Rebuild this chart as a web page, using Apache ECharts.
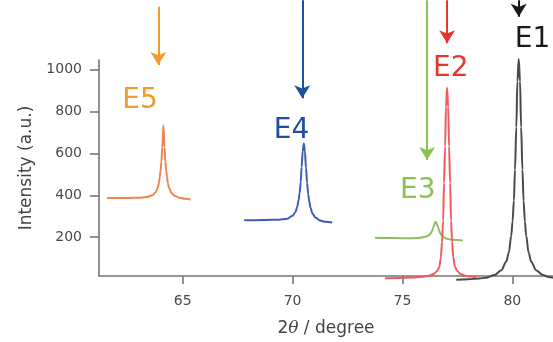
<!DOCTYPE html>
<html><head><meta charset="utf-8">
<script src="https://cdn.jsdelivr.net/npm/echarts@6/dist/echarts.min.js"></script>
<style>html,body{margin:0;padding:0;background:#fff}#c{width:553px;height:342px}</style>
</head><body><div id="c"></div>
<script>
// ---- data ----
const xTicks = [65, 70, 75, 80];
const yTicks = [200, 400, 600, 800, 1000];

const e5 = [[61.55,405],[62.0,405],[62.5,405],[63.0,406],[63.35,409],[63.62,417],[63.76,430],[63.86,452],[63.92,476],[63.95,500],[63.99,530],[64.03,573],[64.07,640],[64.12,742],[64.17,640],[64.21,573],[64.25,530],[64.29,500],[64.32,474],[64.38,450],[64.49,428],[64.63,415],[64.85,406],[65.1,401],[65.36,398]];
const e4 = [[67.8,302],[68.3,302],[68.8,303],[69.3,304],[69.75,309],[70.0,322],[70.13,340],[70.21,363],[70.27,393],[70.32,428],[70.37,478],[70.41,548],[70.46,622],[70.51,658],[70.56,620],[70.61,545],[70.66,475],[70.71,423],[70.76,388],[70.82,358],[70.9,333],[71.04,314],[71.25,300],[71.5,294],[71.8,291]];
const e3 = [[73.75,220],[74.2,219],[74.7,219],[75.2,218],[75.7,219],[76.0,224],[76.17,230],[76.28,240],[76.34,250],[76.4,265],[76.45,284],[76.51,295],[76.57,284],[76.63,265],[76.69,248],[76.75,236],[76.86,224],[77.0,216],[77.2,212],[77.5,210],[77.75,208]];
const e2 = [[74.2,32],[74.8,34],[75.4,36],[75.9,39],[76.2,44],[76.42,52],[76.58,66],[76.68,85],[76.75,130],[76.8,200],[76.85,300],[76.89,474],[76.94,644],[76.98,828],[77.03,916],[77.08,828],[77.12,644],[77.17,474],[77.21,300],[77.26,200],[77.31,130],[77.39,85],[77.49,66],[77.64,52],[77.86,44],[78.1,40],[78.36,38]];
const e1 = [[77.45,25],[78.0,28],[78.5,31],[78.79,35],[79.2,48],[79.5,70],[79.72,109],[79.84,151],[79.95,230],[80.01,296],[80.07,393],[80.12,536],[80.18,733],[80.23,945],[80.29,1050],[80.35,945],[80.4,733],[80.46,536],[80.51,393],[80.57,296],[80.63,230],[80.74,151],[80.86,109],[81.08,70],[81.38,48],[81.65,38],[81.85,34]];

const seriesNames = ['E5', 'E4', 'E3', 'E2', 'E1'];
const seriesData = [e5, e4, e3, e2, e1];
// label anchor positions (data units)
const labelX = [63.06, 69.95, 75.70, 77.20, 80.92];
const labelY = [858, 719, 439, 1004, 1137];
// arrows (data units)
const arrowX = [63.89, 70.44, 76.12, 77.03, 80.29];
const arrowTop = [1292, 1322, 1322, 1322, 1322];
const arrowTip = [1022, 867, 581, 1123, 1246];

const lineColors = ['#EE8552', '#3D5DB5', '#8CBF5E', '#EE5A5E', '#4A4A4A'];
const markColors = ['#F29A2A', '#1F4FA0', '#8CC152', '#E8352E', '#1A1A1A'];

const FONT = 'DejaVu Sans';
const X_MIN = 61.19, X_MAX = 81.85, Y_MIN = 15, Y_MAX = 1045;
const GRID_TOP = 60, GRID_BOTTOM = 60, H = 342;
// overlay grid extends to the top of the canvas with the same y scale
const Y_MAX_OVER = Y_MIN + (Y_MAX - Y_MIN) * (H - GRID_BOTTOM) / (H - GRID_BOTTOM - GRID_TOP);

const series = seriesNames.map((name, i) => ({
  name: name,
  type: 'line',
  xAxisIndex: 1, yAxisIndex: 1,
  data: seriesData[i],
  showSymbol: false,
  smooth: 0.35,
  smoothMonotone: 'x',
  clip: false,
  silent: true,
  lineStyle: { color: lineColors[i], width: 2 },
  markPoint: {
    symbol: 'circle', symbolSize: 0, silent: true,
    label: { show: true, position: 'inside', formatter: '{b}', color: markColors[i],
      fontFamily: FONT, fontSize: 28 },
    data: [{ name: name, coord: [labelX[i], labelY[i]] }]
  },
  markLine: {
    silent: true, symbol: ['none', 'arrow'], symbolSize: [12, 13],
    label: { show: false },
    lineStyle: { color: markColors[i], width: 2, type: 'solid' },
    emphasis: { disabled: true },
    data: [[{ coord: [arrowX[i], arrowTop[i]] }, { coord: [arrowX[i], arrowTip[i]] }]]
  }
}));

const chart = echarts.init(document.getElementById('c'), null, { renderer: 'canvas' });
chart.setOption({
  animation: false,
  backgroundColor: '#ffffff',
  grid: [
    { left: 99, right: 0, top: GRID_TOP, bottom: GRID_BOTTOM, containLabel: false },
    { left: 99, right: 0, top: 0, bottom: GRID_BOTTOM, containLabel: false }
  ],
  xAxis: [{
    gridIndex: 0, type: 'value', min: X_MIN, max: X_MAX,
    name: '{n|2}{t|θ}{n| / degree}', nameLocation: 'middle', nameGap: 44,
    nameTextStyle: { rich: {
      n: { fontFamily: FONT, fontSize: 17, color: '#444' },
      t: { fontFamily: 'DejaVu Serif', fontStyle: 'italic', fontSize: 17, color: '#444' } } },
    axisLine: { show: true, lineStyle: { color: '#777', width: 1.6 } },
    axisTick: { show: true, inside: false, length: 8, customValues: xTicks, lineStyle: { color: '#777', width: 1.6 } },
    axisLabel: { customValues: xTicks, margin: 18, color: '#4a4a4a', fontFamily: FONT, fontSize: 14 },
    splitLine: { show: false }
  }, {
    gridIndex: 1, type: 'value', min: X_MIN, max: X_MAX, show: false
  }],
  yAxis: [{
    gridIndex: 0, type: 'value', min: Y_MIN, max: Y_MAX,
    name: 'Intensity (a.u.)', nameLocation: 'middle', nameGap: 64,
    nameTextStyle: { fontFamily: FONT, fontSize: 17, color: '#444' },
    axisLine: { show: true, lineStyle: { color: '#777', width: 1.6 } },
    axisTick: { show: true, inside: false, length: 9, customValues: yTicks, lineStyle: { color: '#777', width: 1.6 } },
    axisLabel: { customValues: yTicks, margin: 17, color: '#4a4a4a', fontFamily: FONT, fontSize: 14,
      formatter: v => String(v) },
    splitLine: { show: false }
  }, {
    gridIndex: 1, type: 'value', min: Y_MIN, max: Y_MAX_OVER, show: false
  }],
  series: series
});
</script></body></html>
